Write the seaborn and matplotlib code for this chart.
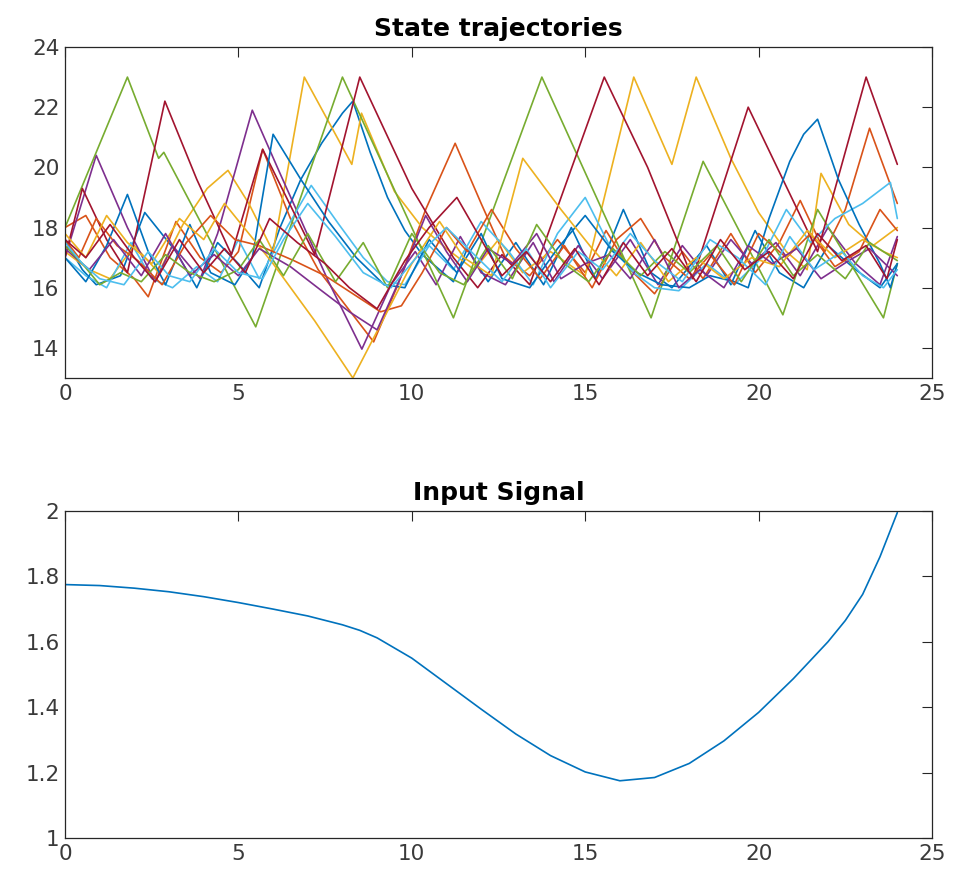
import numpy as np
import pandas as pd
import matplotlib
matplotlib.use("Agg")
import matplotlib.pyplot as plt
import seaborn as sns

sns.set_style("white")
plt.rcParams['font.family'] = ['DejaVu Sans']

# ---------------- data ----------------
colors = ["#0072BD", "#D95319", "#EDB120", "#7E2F8E", "#77AC30", "#4DBEEE", "#A2142F"]

traj_blue_1 = [(0,17.6),(0.5,16.6),(0.9,16.1),(1.6,16.4),(2.3,18.5),(3.2,17.2),(3.8,16.0),(4.4,17.5),(5.0,16.8),(5.6,16.0),(6.2,18.0),(6.8,19.6),(7.4,20.8),(8.0,21.8),(8.3,22.2),(8.8,20.5),(9.3,19.0),(9.8,17.9),(10.3,17.1),(10.8,16.6),(11.2,16.2),(11.6,17.3),(12.2,16.2),(13.0,17.5),(13.8,16.1),(14.6,18.0),(15.3,16.3),(16.1,18.6),(16.9,16.5),(17.5,16.0),(18.5,17.4),(19.2,16.1),(19.9,17.9),(20.6,16.5),(21.3,16.0),(22.0,17.4),(22.8,16.6),(23.5,16.0),(24,16.8)]
traj_orange_1 = [(0,18.0),(0.6,18.4),(1.3,17.0),(2.0,16.3),(2.4,15.7),(3.2,18.2),(3.9,17.0),(4.5,16.5),(5.0,17.2),(5.7,20.6),(6.5,18.3),(7.3,16.6),(8.1,15.4),(8.9,14.2),(9.6,16.1),(10.4,18.6),(11.25,20.8),(12.0,18.8),(12.7,17.0),(13.4,16.4),(14.2,17.6),(15.0,16.5),(15.6,17.9),(16.3,16.6),(17.0,15.8),(17.8,17.2),(18.4,16.3),(19.2,17.8),(19.9,16.5),(20.6,17.5),(21.2,18.9),(21.9,17.2),(22.5,18.6),(23.2,21.3),(24,18.8)]
traj_yellow_1 = [(0,17.2),(0.7,16.6),(1.3,16.3),(2.0,17.4),(2.7,16.5),(3.4,18.1),(4.1,19.3),(4.7,19.9),(5.3,18.8),(6.0,17.2),(6.9,23.0),(8.27,20.1),(8.55,21.8),(9.5,19.2),(10.3,18.0),(11.0,17.3),(11.8,16.6),(12.5,17.6),(13.2,16.5),(14.0,17.2),(15.0,16.4),(16.4,23.0),(17.5,20.1),(18.2,23.0),(19.2,20.3),(20.0,18.5),(20.8,17.2),(21.4,16.6),(21.8,19.8),(22.6,18.1),(23.3,17.4),(24,18.0)]
traj_purple_1 = [(0,17.0),(0.9,20.4),(1.8,18.0),(2.6,16.2),(3.1,17.4),(3.9,16.3),(4.4,17.8),(5.4,21.9),(6.2,19.8),(6.9,18.0),(7.6,16.2),(8.56,13.96),(9.4,16.1),(10.1,17.2),(10.7,16.1),(11.4,17.7),(12.0,16.5),(12.7,16.1),(13.5,17.5),(14.1,16.2),(14.8,17.4),(15.5,16.3),(16.3,17.6),(17.1,16.1),(17.8,17.4),(18.5,16.4),(19.2,17.6),(19.8,16.8),(20.5,17.5),(21.2,16.4),(22.0,18.0),(22.8,16.8),(23.5,16.1),(24,17.7)]
traj_green_1 = [(0,18.0),(1.8,23.0),(2.7,20.3),(2.85,20.5),(5.5,14.7),(8.0,23.0),(11.2,15.0),(13.75,23.0),(16.9,15.0),(18.4,20.2),(20.7,15.1),(21.7,18.6),(23.6,15.0),(24,16.8)]
traj_lblue_1 = [(0,17.0),(0.6,16.4),(1.2,16.0),(1.9,17.5),(2.5,16.3),(3.1,16.0),(3.8,16.7),(4.4,16.2),(5.0,17.6),(5.6,16.3),(6.3,17.8),(7.1,19.4),(7.9,18.1),(8.6,17.0),(9.3,16.2),(9.8,16.1),(10.5,17.4),(11.2,16.6),(12.0,18.2),(12.8,17.2),(13.5,16.1),(14.2,17.8),(15.0,19.0),(15.7,17.4),(16.4,16.5),(17.0,16.0),(17.7,15.9),(18.5,16.8),(19.3,16.1),(20.1,17.0),(20.8,18.6),(21.5,17.5),(22.2,18.3),(23.0,18.8),(23.8,19.5),(24,18.3)]
traj_dred_1 = [(0,17.0),(0.5,19.3),(1.2,17.6),(1.8,16.5),(2.88,22.2),(3.8,19.6),(4.8,17.1),(5.7,20.6),(7.2,17.1),(8.5,23.0),(10.0,19.3),(11.2,17.0),(11.9,16.0),(12.6,17.1),(13.4,16.1),(15.55,23.0),(16.8,20.0),(18.1,16.3),(19.7,22.0),(21.7,17.2),(23.1,23.0),(24,20.1)]
traj_blue_2 = [(0,17.0),(0.6,16.2),(1.2,17.4),(1.8,19.1),(2.4,17.2),(2.9,16.1),(3.6,18.1),(4.2,16.5),(4.9,16.1),(5.4,17.0),(6.0,21.1),(6.8,19.6),(7.6,18.2),(8.4,17.0),(9.2,16.1),(9.8,16.0),(10.5,17.6),(11.3,16.5),(12.0,17.8),(12.6,16.3),(13.4,16.0),(14.2,17.3),(15.0,18.4),(15.8,17.2),(16.5,16.5),(17.2,16.1),(18.0,16.0),(18.6,16.4),(19.3,16.2),(19.7,16.0),(20.3,18.3),(20.9,20.2),(21.3,21.1),(21.7,21.6),(22.3,19.6),(22.9,18.1),(23.5,16.8),(23.8,16.0),(24,16.8)]
traj_orange_2 = [(0,17.6),(0.4,17.0),(0.9,18.3),(1.5,17.4),(2.1,16.9),(2.8,16.1),(3.5,17.5),(4.2,18.4),(4.9,17.6),(5.6,17.4),(6.6,16.9),(7.5,16.4),(8.3,15.8),(9.1,15.2),(9.7,15.4),(10.3,16.5),(11.0,18.0),(11.6,17.2),(12.3,18.6),(13.0,17.3),(13.7,16.3),(14.4,17.4),(15.2,16.0),(15.9,17.6),(16.6,18.3),(17.3,17.0),(18.0,16.3),(18.6,17.1),(19.3,16.1),(20.0,17.8),(20.8,17.0),(21.5,17.8),(22.2,16.7),(22.9,17.2),(23.5,18.6),(24,17.9)]
traj_yellow_2 = [(0,17.8),(0.6,17.0),(1.2,18.4),(1.8,17.5),(2.5,16.8),(3.3,18.3),(4.0,17.6),(4.6,18.8),(5.3,17.8),(6.0,16.8),(7.2,14.9),(8.3,13.0),(9.2,15.0),(10.0,16.8),(10.8,18.2),(11.5,17.0),(12.3,16.4),(13.2,20.3),(14.3,18.6),(15.2,17.3),(15.9,16.4),(16.6,17.5),(17.4,16.2),(18.2,17.0),(19.0,16.3),(19.8,17.0),(20.6,16.7),(21.4,17.9),(22.2,17.0),(23.0,17.6),(23.6,17.2),(24,17.0)]
traj_purple_2 = [(0,17.3),(0.7,16.6),(1.4,17.6),(2.2,16.4),(2.9,17.8),(3.6,16.4),(4.3,17.1),(5.0,16.4),(5.6,17.3),(6.5,16.7),(7.4,15.9),(8.2,15.2),(9.0,14.6),(9.7,16.4),(10.4,18.4),(11.0,17.2),(11.6,16.2),(12.2,17.3),(12.9,16.8),(13.6,17.8),(14.3,16.3),(15.0,16.8),(15.7,17.1),(16.3,16.3),(17.0,17.6),(17.7,16.0),(18.3,16.6),(19.0,16.0),(19.7,17.4),(20.4,16.8),(21.1,17.3),(21.8,16.3),(22.6,16.9),(23.2,17.3),(24,16.4)]
traj_green_2 = [(0,17.4),(0.5,16.8),(1.0,16.1),(1.6,16.5),(2.2,16.2),(2.9,17.1),(3.6,16.5),(4.3,16.2),(5.0,16.6),(5.6,17.6),(6.3,16.4),(7.0,17.8),(7.8,16.2),(8.6,17.5),(9.3,16.0),(10.0,17.8),(10.8,16.5),(11.5,16.1),(12.2,17.4),(12.9,16.3),(13.6,18.1),(14.4,16.8),(15.1,16.2),(15.8,17.3),(16.6,16.4),(17.3,17.2),(18.0,16.5),(18.8,17.4),(19.5,16.2),(20.3,17.6),(21.0,16.4),(21.7,17.1),(22.5,16.3),(23.2,17.5),(24,16.9)]
traj_lblue_2 = [(0,17.5),(0.5,16.8),(1.0,16.3),(1.7,16.1),(2.4,17.2),(3.0,16.4),(3.6,16.2),(4.3,17.3),(5.0,16.5),(5.7,16.3),(6.3,17.6),(7.0,18.8),(7.8,17.7),(8.6,16.5),(9.4,16.0),(10.2,17.1),(11.0,18.0),(11.8,17.1),(12.6,16.2),(13.3,17.3),(14.0,16.0),(14.8,17.2),(15.5,16.6),(16.3,17.8),(17.0,16.9),(17.8,16.2),(18.6,17.6),(19.4,17.0),(20.2,16.1),(20.9,17.7),(21.6,16.6),(22.4,17.2),(23.0,16.4),(23.6,16.0),(24,16.6)]
traj_dred_2 = [(0,17.6),(0.6,17.0),(1.3,18.1),(2.0,17.0),(2.6,16.2),(3.3,17.6),(4.0,16.5),(4.6,17.3),(5.2,16.5),(5.9,18.3),(6.7,17.5),(7.5,16.8),(8.2,16.0),(9.0,15.3),(9.8,16.9),(10.5,18.0),(11.3,19.0),(12.0,17.6),(12.6,16.4),(13.3,17.2),(14.0,16.2),(14.7,17.3),(15.4,16.1),(16.1,17.5),(16.8,16.4),(17.5,17.3),(18.2,16.2),(18.9,17.6),(19.6,16.6),(20.3,17.2),(21.0,16.3),(21.7,17.8),(22.4,16.9),(23.1,17.4),(23.7,16.3),(24,17.6)]

trajectories = [traj_blue_1, traj_orange_1, traj_yellow_1, traj_purple_1, traj_green_1,
                traj_lblue_1, traj_dred_1, traj_blue_2, traj_orange_2, traj_yellow_2,
                traj_purple_2, traj_green_2, traj_lblue_2, traj_dred_2]

input_t = [0, 1, 2, 3, 4, 5, 6, 7, 8, 8.5, 9, 10, 11, 12, 13, 14, 15, 16, 17, 18, 19, 20, 21, 22, 22.5, 23, 23.5, 24]
input_u = [1.775, 1.772, 1.764, 1.753, 1.738, 1.720, 1.700, 1.679, 1.652, 1.635, 1.612, 1.550, 1.472, 1.394, 1.318,
           1.252, 1.202, 1.175, 1.185, 1.228, 1.297, 1.384, 1.487, 1.600, 1.665, 1.745, 1.860, 1.995]

top_yticks = [14, 16, 18, 20, 22, 24]
bot_yticks = [1, 1.2, 1.4, 1.6, 1.8, 2]
bot_ylabels = ["1", "1.2", "1.4", "1.6", "1.8", "2"]
xticks = [0, 5, 10, 15, 20, 25]

# ---------------- figure ----------------
fig = plt.figure(figsize=(9.56, 8.86), dpi=100)
ax1 = fig.add_axes([65/956, 1-378/886, (932-65)/956, (378-47)/886])
ax2 = fig.add_axes([65/956, 1-838/886, (932-65)/956, (838-511)/886])

rows = []
for i, tr in enumerate(trajectories):
    for k, (t, y) in enumerate(tr):
        rows.append({"traj": i, "order": k, "t": t, "y": y})
df = pd.DataFrame(rows)

for i in range(len(trajectories)):
    sub = df[df.traj == i]
    sns.lineplot(data=sub, x="t", y="y", ax=ax1, color=colors[i % 7], lw=1.2,
                 sort=False, estimator=None, legend=False)

sns.lineplot(x=input_t, y=input_u, ax=ax2, color="#0072BD", lw=1.2, sort=False, estimator=None)

tcol = "#262626"
for ax in (ax1, ax2):
    ax.set_xlim(0, 25)
    ax.set_xticks(xticks)
    ax.set_xlabel("")
    ax.set_ylabel("")
    ax.tick_params(direction="in", length=7, width=0.8, top=True, right=True,
                   labelsize=15.5, colors=tcol, labelcolor="#3a3a3a", pad=4)
    for s in ax.spines.values():
        s.set_color(tcol)
        s.set_linewidth(0.9)
        s.set_visible(True)

ax1.set_ylim(13, 24)
ax1.set_yticks(top_yticks)
ax2.set_ylim(1, 2)
ax2.set_yticks(bot_yticks)
ax2.set_yticklabels(bot_ylabels)

ax1.set_title("State trajectories", fontsize=18, fontweight="bold", color="black", pad=8)
ax2.set_title("Input Signal", fontsize=18, fontweight="bold", color="black", pad=8)

fig.savefig("out.png", dpi=100)
